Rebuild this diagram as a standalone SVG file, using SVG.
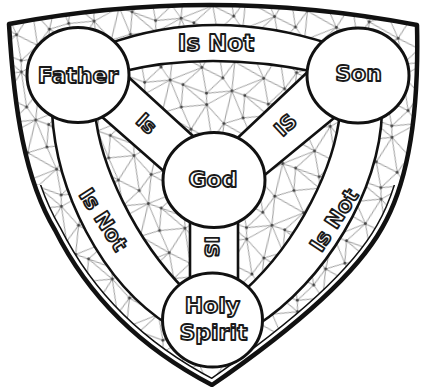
<svg xmlns="http://www.w3.org/2000/svg" width="424" height="387" viewBox="0 0 424 387">
<defs>
<style>
.edge{fill:#fff;stroke:#111;stroke-width:2.6;stroke-linejoin:round}
.node{fill:#fff;stroke:#111;stroke-width:3}
.lbl{font-family:"DejaVu Sans","Liberation Sans",sans-serif;font-weight:bold;font-size:22px;fill:#fff;stroke:#1a1a1a;stroke-width:1.8;stroke-linejoin:round;text-anchor:middle}
.sm{font-size:20px}
.mid{font-size:21px}
.big{font-size:23px}
</style>
<path id="shieldPath" d="M 9,24 Q 211,-14.5 417,25 C 419,110 410,180 382,228 C 350,285 270,345 212,385 C 135,345 85,290 55,230 C 25,180 14,110 9,24 Z"/>
<clipPath id="shieldClip"><use href="#shieldPath"/></clipPath>
<clipPath id="lowClip"><rect x="0" y="185" width="424" height="210"/></clipPath>
<pattern id="mesh" width="56" height="56" patternUnits="userSpaceOnUse" patternTransform="rotate(10) scale(1.12)">
<path fill="none" stroke="#909090" stroke-width="0.8" d="M8,10 L30,4 L48,18 M8,10 L20,28 M30,4 L20,28 M30,4 L40,34 M48,18 L40,34 M20,28 L40,34 M20,28 L6,46 M20,28 L28,50 M40,34 L28,50 M40,34 L50,44 M48,18 L50,44 M6,46 L28,50 L50,44 M48,18 L64,10 M-8,18 L8,10 M48,18 L76,28 M-8,18 L20,28 M50,44 L76,28 M-6,44 L20,28 M50,44 L62,46 M-6,44 L6,46 M6,46 L8,66 M6,-10 L8,10 M6,46 L30,60 M6,-10 L30,4 M28,50 L30,60 M28,-6 L30,4 M50,44 L30,60 M50,-12 L30,4 M50,44 L48,74 M50,-12 L48,18 M50,44 L64,66 M-6,44 L8,66 M-6,-12 L8,10"/>
<g fill="#444"><circle cx="8" cy="10" r="1.3"/><circle cx="30" cy="4" r="1.3"/><circle cx="48" cy="18" r="1.3"/><circle cx="20" cy="28" r="1.3"/><circle cx="40" cy="34" r="1.3"/><circle cx="6" cy="46" r="1.3"/><circle cx="28" cy="50" r="1.3"/><circle cx="50" cy="44" r="1.3"/></g>
</pattern>
</defs>
<rect width="424" height="387" fill="#fff"/>
<g id="shield">
<use href="#shieldPath" fill="#fff"/>
<use href="#shieldPath" fill="url(#mesh)"/>
<g clip-path="url(#shieldClip)"><g clip-path="url(#lowClip)">
<use href="#shieldPath" fill="none" stroke="#111" stroke-width="13"/>
<use href="#shieldPath" fill="none" stroke="#fff" stroke-width="10"/>
</g></g>
<use href="#shieldPath" fill="none" stroke="#111" stroke-width="4.5" stroke-linejoin="round"/>
</g>
<g id="connectors">
<path id="e-father-son" class="edge" d="M 105,45 Q 212.5,5.5 330,44 L 316,72 Q 208,50 120,72 Z"/>
<path id="e-father-spirit" class="edge" d="M 52,112 C 56,190 100,282 170,326 L 185,290 C 135,240 100,165 95,112 Z"/>
<path id="e-son-spirit" class="edge" d="M 382,112 C 380,190 325,282 256,326 L 244,291 C 300,240 335,165 340,112 Z"/>
<path id="e-father-god" class="edge" d="M 112,62 L 205,147 L 175,181 L 85,102 Z"/>
<path id="e-son-god" class="edge" d="M 316,64 L 228,147 L 255,183 L 345,109 Z"/>
<path id="e-god-spirit" class="edge" d="M 190,215 L 190,285 L 238,285 L 238,215 Z"/>
<text class="lbl big" x="216" y="51">Is Not</text>
<text class="lbl sm" transform="translate(146.5,123.5) rotate(42)" y="7">Is</text>
<text class="lbl sm" transform="translate(285.5,125) rotate(-43)" y="7">IS</text>
<text class="lbl sm" transform="translate(212,247) rotate(90)" y="7">IS</text>
<text class="lbl mid" transform="translate(103.5,219.5) rotate(57)" y="7.5">Is Not</text>
<text class="lbl mid" transform="translate(334,220) rotate(-57)" y="7.5">Is Not</text>
</g>
<g id="father"><ellipse class="node" cx="78" cy="75" rx="51" ry="47.5"/><text class="lbl" x="78" y="82.5">Father</text></g>
<g id="son"><ellipse class="node" cx="358" cy="75.5" rx="51" ry="47.5"/><text class="lbl" x="358.5" y="81">Son</text></g>
<g id="god"><ellipse class="node" cx="214" cy="180" rx="51" ry="47.5"/><text class="lbl" x="213" y="187">God</text></g>
<g id="holy-spirit"><ellipse class="node" cx="212.5" cy="320" rx="50" ry="47"/><text class="lbl" x="212.5" y="313">Holy</text><text class="lbl" x="213.5" y="339.5">Spirit</text></g>
</svg>
